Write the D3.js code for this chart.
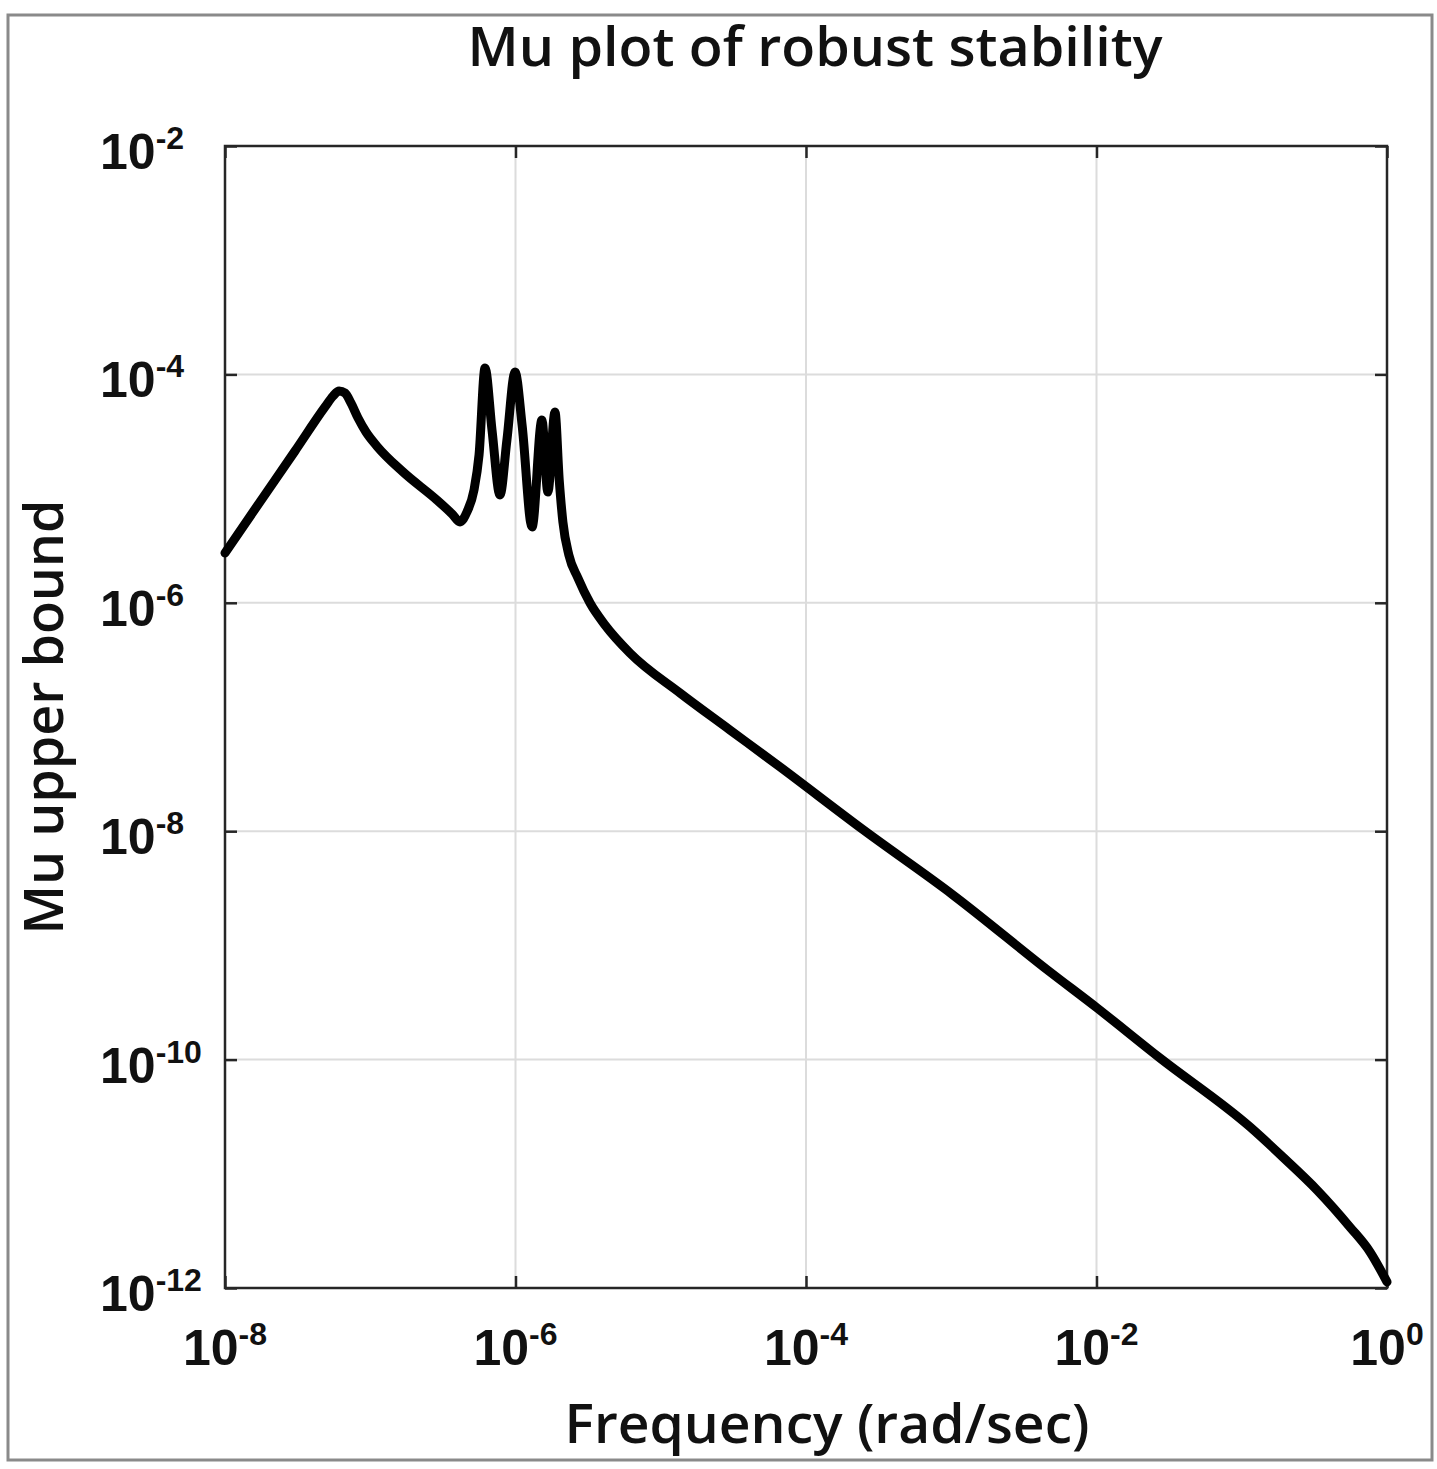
<!DOCTYPE html>
<html>
<head>
<meta charset="utf-8">
<script src="https://cdn.jsdelivr.net/npm/d3@7"></script>
<style>
  body { margin: 0; background: #fff; }
  svg { display: block; }
</style>
</head>
<body>
<div id="chart"></div>
<script>
// frequency (rad/sec) and mu upper bound
var freq = [1e-8, 1.74e-8, 3.03e-8, 4.88e-8, 5.55e-8, 6.10e-8, 6.70e-8, 7.36e-8, 8.24e-8, 9.35e-8,
  1.11e-7, 1.68e-7, 2.88e-7, 3.66e-7, 4.15e-7, 4.63e-7, 5.18e-7, 5.61e-7, 6.17e-7, 6.89e-7, 7.82e-7,
  8.73e-7, 9.93e-7, 1.11e-6, 1.30e-6, 1.52e-6, 1.67e-6, 1.87e-6, 2.00e-6, 2.12e-6, 2.33e-6,
  2.69e-6, 3.26e-6, 4.13e-6, 6.14e-6, 1.36e-5, 3.00e-5, 6.62e-5, 2.47e-4, 1.03e-3, 4.79e-3,
  1.01e-2, 2.74e-2, 1.14e-1, 1.92e-1, 3.30e-1, 5.56e-1, 7.64e-1, 1];
var muUpper = [2.73e-6, 7.64e-6, 2.13e-5, 5.19e-5, 6.47e-5, 7.16e-5, 6.87e-5, 5.62e-5, 4.15e-5, 3.13e-5,
  2.36e-5, 1.40e-5, 7.94e-6, 6.00e-6, 5.11e-6, 6.24e-6, 9.73e-6, 1.97e-5, 1.14e-4, 3.26e-5, 8.79e-6,
  2.67e-5, 1.05e-4, 3.61e-5, 4.61e-6, 3.99e-5, 9.33e-6, 4.69e-5, 1.19e-5, 5.11e-6, 2.62e-6,
  1.65e-6, 9.95e-7, 6.40e-7, 3.63e-7, 1.62e-7, 7.69e-8, 3.65e-8, 1.03e-8, 2.76e-9, 5.85e-10,
  2.83e-10, 1.03e-10, 2.57e-11, 1.40e-11, 7.21e-12, 3.42e-12, 2.07e-12, 1.13e-12];
var xTickExp = [-8, -6, -4, -2, 0];
var yTickExp = [-12, -10, -8, -6, -4, -2];

var W = 1437, H = 1469;
var margin = {top: 146, right: 50, bottom: 181, left: 225},
    width = W - margin.left - margin.right,
    height = H - margin.top - margin.bottom;

var svg = d3.select("#chart").append("svg")
    .attr("width", W)
    .attr("height", H);

// outer figure frame
svg.append("rect")
    .attr("x", 8).attr("y", 15)
    .attr("width", 1424).attr("height", 1445)
    .attr("fill", "none")
    .attr("stroke", "#8a8a8a")
    .attr("stroke-width", 3);

var g = svg.append("g")
    .attr("transform", "translate(" + margin.left + "," + margin.top + ")");

var x = d3.scaleLog().domain([1e-8, 1]).range([0, width]);
var y = d3.scaleLog().domain([1e-12, 1e-2]).range([height, 0]);

var xTicks = xTickExp.map(function(e){ return Math.pow(10, e); });
var yTicks = yTickExp.map(function(e){ return Math.pow(10, e); });

// grid
g.append("g")
    .attr("class", "grid")
    .selectAll("line")
    .data(xTicks.slice(1, -1))
  .enter().append("line")
    .attr("x1", function(d){ return x(d); })
    .attr("x2", function(d){ return x(d); })
    .attr("y1", 0).attr("y2", height)
    .attr("stroke", "#dcdcdc").attr("stroke-width", 2);

g.append("g")
    .attr("class", "grid")
    .selectAll("line")
    .data(yTicks.slice(1, -1))
  .enter().append("line")
    .attr("y1", function(d){ return y(d); })
    .attr("y2", function(d){ return y(d); })
    .attr("x1", 0).attr("x2", width)
    .attr("stroke", "#dcdcdc").attr("stroke-width", 2);

// inward ticks on all four sides
function styleAxis(sel) {
  sel.select(".domain").remove();
  sel.selectAll(".tick line").attr("stroke", "#262626").attr("stroke-width", 2.5);
  sel.selectAll(".tick text").remove();
}
g.append("g").attr("transform", "translate(0," + height + ")")
    .call(d3.axisBottom(x).tickValues(xTicks).tickSize(-12)).call(styleAxis);
g.append("g")
    .call(d3.axisTop(x).tickValues(xTicks).tickSize(-12)).call(styleAxis);
g.append("g")
    .call(d3.axisLeft(y).tickValues(yTicks).tickSize(-12)).call(styleAxis);
g.append("g").attr("transform", "translate(" + width + ",0)")
    .call(d3.axisRight(y).tickValues(yTicks).tickSize(-12)).call(styleAxis);

// box
g.append("rect")
    .attr("width", width).attr("height", height)
    .attr("fill", "none")
    .attr("stroke", "#262626")
    .attr("stroke-width", 2.5);

// tick labels as 10^n
function powLabel(sel) {
  sel.append("tspan").text("10");
  sel.append("tspan")
    .attr("font-size", "32px")
    .attr("dy", -20)
    .text(function(d){ return d; });
}

g.selectAll(".xlab")
    .data(xTickExp)
  .enter().append("text")
    .attr("class", "xlab")
    .attr("x", function(d){ return x(Math.pow(10, d)); })
    .attr("y", height + 77)
    .attr("text-anchor", "middle")
    .attr("font-family", "Liberation Sans, Arial, sans-serif")
    .attr("font-size", "50px")
    .attr("font-weight", "bold")
    .attr("fill", "#111")
    .call(powLabel);

g.selectAll(".ylab")
    .data(yTickExp)
  .enter().append("text")
    .attr("class", "ylab")
    .attr("x", 100 - margin.left)
    .attr("y", function(d){ return y(Math.pow(10, d)) + 23; })
    .attr("text-anchor", "start")
    .attr("font-family", "Liberation Sans, Arial, sans-serif")
    .attr("font-size", "50px")
    .attr("font-weight", "bold")
    .attr("fill", "#111")
    .call(powLabel);

// the mu curve
var data = freq.map(function(f, i){ return {f: f, mu: muUpper[i]}; });

var line = d3.line()
    .x(function(d){ return x(d.f); })
    .y(function(d){ return y(d.mu); })
    .curve(d3.curveMonotoneX);

g.append("path")
    .datum(data)
    .attr("d", line)
    .attr("fill", "none")
    .attr("stroke", "#000")
    .attr("stroke-width", 9)
    .attr("stroke-linejoin", "round")
    .attr("stroke-linecap", "round");

// titles
function label(txt, xPos, yPos, len, rot) {
  svg.append("text")
    .attr("transform", "translate(" + xPos + "," + yPos + ")" + (rot ? " rotate(-90)" : ""))
    .attr("text-anchor", "middle")
    .attr("font-family", "Open Sans, sans-serif")
    .attr("font-size", "54px")
    .attr("font-weight", 600)
    .attr("textLength", len)
    .attr("lengthAdjust", "spacingAndGlyphs")
    .attr("fill", "#111")
    .text(txt);
}
label("Mu plot of robust stability", 815, 66, 695, false);
label("Frequency (rad/sec)", 827, 1443, 525, false);
label("Mu upper bound", 63, margin.top + height / 2, 435, true);
</script>
</body>
</html>
